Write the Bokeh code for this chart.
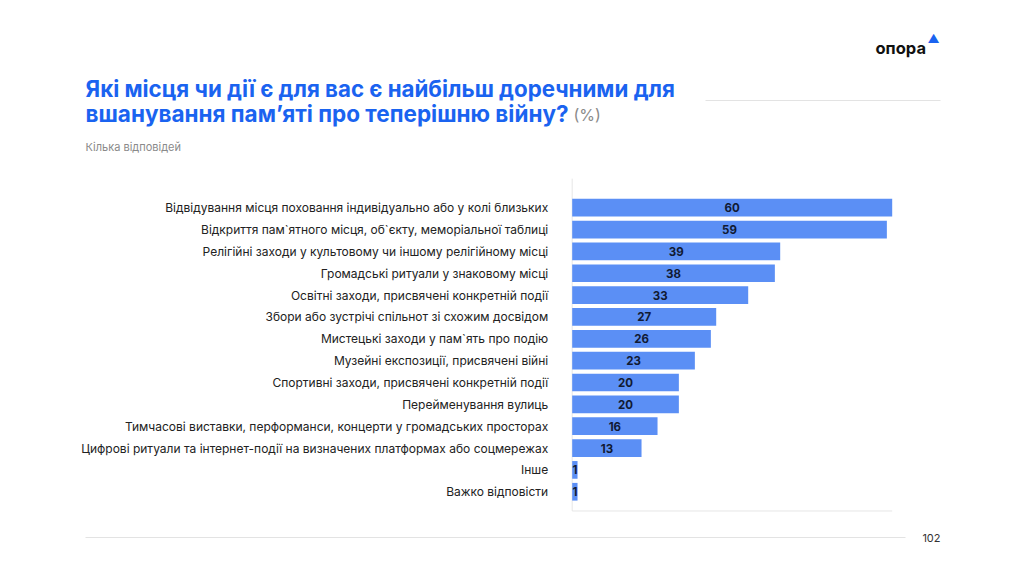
from bokeh.plotting import figure
from bokeh.models import Range1d, ColumnDataSource
from bokeh.core.properties import value
from bokeh.embed import file_html
from bokeh.resources import INLINE

# ---------------- data ----------------
categories = [
    "Відвідування місця поховання індивідуально або у колі близьких",
    "Відкриття пам`ятного місця, об`єкту, меморіальної таблиці",
    "Релігійні заходи у культовому чи іншому релігійному місці",
    "Громадські ритуали у знаковому місці",
    "Освітні заходи, присвячені конкретній події",
    "Збори або зустрічі спільнот зі схожим досвідом",
    "Мистецькі заходи у пам`ять про подію",
    "Музейні експозиції, присвячені війні",
    "Спортивні заходи, присвячені конкретній події",
    "Перейменування вулиць",
    "Тимчасові виставки, перформанси, концерти у громадських просторах",
    "Цифрові ритуали та інтернет-події на визначених платформах або соцмережах",
    "Інше",
    "Важко відповісти",
]
values = [60, 59, 39, 38, 33, 27, 26, 23, 20, 20, 16, 13, 1, 1]

title_line1 = "Які місця чи дії є для вас є найбільш доречними для"
title_line2 = "вшанування пам’яті про теперішню війну?"
title_unit = "(%)"
subtitle = "Кілька відповідей"
logo_text = "опора"
page_number = "102"

# ---------------- layout ----------------
W, H = 1008, 560
OX, OY = 0, 0                     # picture offset of the canvas
bar_x0 = 571.7 - OX               # canvas x of value 0
px_per_unit = 320.0 / 60.0
row_top = 207.2 - OY              # canvas y of first row centre
row_pitch = 21.85

x_start = -bar_x0 / px_per_unit
x_end = (W - bar_x0) / px_per_unit
y_end = -row_top / row_pitch
y_start = (H - row_top) / row_pitch

p = figure(width=W, height=H, output_backend="svg", toolbar_location=None,
           x_range=Range1d(x_start, x_end), y_range=Range1d(y_start, y_end),
           x_axis_location=None, y_axis_location=None, min_border=0,
           background_fill_color="white", border_fill_color="white")
p.outline_line_color = None
p.grid.visible = False
p.extra_x_ranges = {"px": Range1d(0, W)}
p.extra_y_ranges = {"py": Range1d(H, 0)}

FONT = value("Inter")
rows = list(range(len(categories)))
src = ColumnDataSource(dict(y=rows, v=values, cat=categories,
                            mid=[v / 2 for v in values],
                            lab=[str(v) for v in values]))

# axis lines (frame of the chart)
top_y = -1.33
bot_y = len(categories) - 1 + 0.88
p.segment(x0=[0], y0=[top_y], x1=[0], y1=[bot_y], line_color="#e6e6e6", line_width=1)
p.segment(x0=[0], y0=[bot_y], x1=[max(values)], y1=[bot_y], line_color="#e6e6e6", line_width=1)

p.hbar(y="y", left=0, right="v", height=0.81, source=src,
       fill_color="#5b8ff5", line_color=None)

p.text(x="mid", y="y", text="lab", source=src, text_align="center",
       text_baseline="middle", text_font=FONT, text_font_style="bold",
       text_font_size="11.5px", text_color="#111a33")

p.text(x=0, y="y", text="cat", source=src, x_offset=-24, text_align="right",
       text_baseline="middle", text_font=FONT, text_font_size="12px",
       text_color="#222222")

# ---------------- page decoration (canvas pixel ranges) ----------------
def T(x, y, s, size, color, bold=False, align="left"):
    p.text(x=[x - OX], y=[y - OY], text=[s], x_range_name="px", y_range_name="py",
           text_align=align, text_baseline="middle", text_font=FONT,
           text_font_style="bold" if bold else "normal",
           text_font_size=size, text_color=color)

T(85, 88, title_line1, "22.3px", "#1a63f0", bold=True)
T(85, 113, title_line2, "22.5px", "#1a63f0", bold=True)
T(573, 114, title_unit, "16px", "#8a8a8a")
T(85, 146, subtitle, "11px", "#8a8a8a")
T(875, 47, logo_text, "16.5px", "#111111", bold=True)
T(933, 38, "▲", "12px", "#1a63f0", align="center")
T(940, 537, page_number, "11px", "#333333", align="right")

p.segment(x0=[705 - OX], y0=[100 - OY], x1=[940 - OX], y1=[100 - OY],
          x_range_name="px", y_range_name="py", line_color="#e3e3e3", line_width=1)
p.segment(x0=[85 - OX], y0=[537 - OY], x1=[905 - OX], y1=[537 - OY],
          x_range_name="px", y_range_name="py", line_color="#e3e3e3", line_width=1)

open("out.html", "w").write(file_html(p, INLINE))
